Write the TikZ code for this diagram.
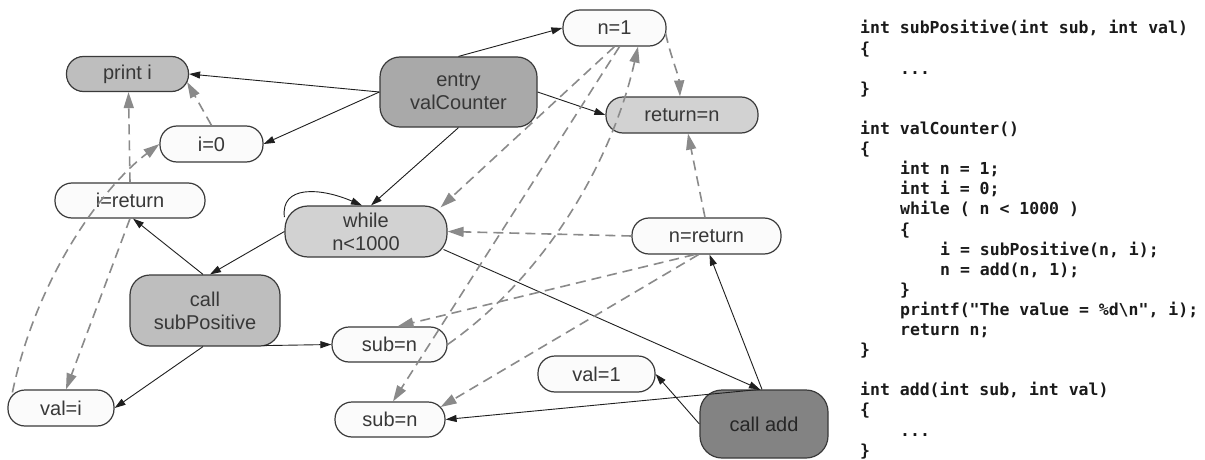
\documentclass[tikz,border=0pt]{standalone}
\usepackage{fontspec}
\setmainfont{Liberation Sans}
\newfontfamily\codefont{DejaVu Sans Mono}
\usetikzlibrary{arrows.meta,calc}

\definecolor{nodeline}{HTML}{3A3A3A}
\definecolor{labeltext}{HTML}{383838}
\definecolor{fillwhite}{HTML}{FBFBFB}
\definecolor{filllight}{HTML}{D2D2D2}
\definecolor{fillmid}{HTML}{BEBEBE}
\definecolor{filldark}{HTML}{A9A9A9}
\definecolor{fillcall}{HTML}{838383}
\definecolor{depgray}{HTML}{8A8A8A}
\definecolor{codeink}{HTML}{1A1A1A}

\begin{document}
\begin{tikzpicture}[x=1pt,y=-1pt,
  box/.style={draw=nodeline, line width=1.2pt, text=labeltext,
    font=\fontsize{20}{23}\selectfont, inner sep=0pt, align=center},
  pill/.style={box, rounded corners=17pt, fill=fillwhite},
  roundbox/.style={box, rounded corners=20pt},
  flow/.style={draw=black!88, line width=0.9pt,
    -{Triangle[length=11pt,width=7pt]}},
  dep/.style={draw=depgray, line width=1.6pt, dash pattern=on 10pt off 6pt,
    -{Triangle[length=16pt,width=10pt]}},
  code/.style={font=\codefont\bfseries\fontsize{16.5}{20}\selectfont,
    text=codeink, anchor=base west, inner sep=0pt}
]
\fill[white] (0,0) rectangle (1205,460);
\useasboundingbox (0,0) rectangle (1205,460);

% ---- graph nodes ----
\node[pill, fill=fillmid, minimum width=122pt, minimum height=35pt] (printi) at (127.5,74) {print i};
\node[roundbox, fill=filldark, minimum width=157pt, minimum height=70pt] (entry) at (458.5,92) {entry\\valCounter};
\node[pill, minimum width=103pt, minimum height=36pt] (n1) at (614.5,28) {n=1};
\node[pill, fill=filllight, minimum width=152pt, minimum height=36pt] (retn) at (682,115) {return=n};
\node[pill, minimum width=103pt, minimum height=36pt] (i0) at (211.5,144) {i=0};
\node[pill, minimum width=150pt, minimum height=35pt] (iret) at (130,200.5) {i=return};
\node[roundbox, rounded corners=23pt, fill=filllight, minimum width=162pt, minimum height=51pt] (while) at (366,231.5) {while\\n<1000};
\node[pill, minimum width=149pt, minimum height=36pt] (nret) at (706.5,236) {n=return};
\node[roundbox, fill=fillmid, minimum width=150pt, minimum height=71pt] (csp) at (205,310.5) {call\\subPositive};
\node[pill, minimum width=115pt, minimum height=35pt] (sub1) at (389.5,344.5) {sub=n};
\node[pill, minimum width=106pt, minimum height=36pt] (vali) at (61,408) {val=i};
\node[pill, minimum width=117pt, minimum height=36pt] (val1) at (596.5,374) {val=1};
\node[pill, minimum width=110pt, minimum height=35pt] (sub2) at (390,419.5) {sub=n};
\node[roundbox, rounded corners=22pt, fill=fillcall, text=black!85, minimum width=128pt, minimum height=68pt] (cadd) at (764,424) {call add};

% ---- control edges ----
\draw[flow] (entry.west) -- (printi.east);
\draw[flow] (entry.west) -- (i0.east);
\draw[flow] (entry.north) -- (n1.west);
\draw[flow] (entry.east) -- (retn.west);
\draw[flow] (entry.south) -- ([xshift=5pt]while.north);
\draw[flow] (while.170) .. controls +(-4,-32) and +(-42,-18) .. ([xshift=-4pt]while.north);
\draw[flow] (while.west) -- ([xshift=5pt]csp.north);
\draw[flow] ($(while.east)+(-4,18)$) -- ([xshift=-4pt]cadd.north);
\draw[flow] ([xshift=-2pt]csp.north) -- ([xshift=3pt]iret.south);
\draw[flow] ($(csp.south east)+(-17,-1)$) -- (sub1.west);
\draw[flow] ([xshift=-2pt]csp.south) -- (vali.east);
\draw[flow] ([xshift=-2pt]cadd.north) -- ([xshift=3pt]nret.south);
\draw[flow] (cadd.west) -- (val1.east);
\draw[flow] ([xshift=-4pt]cadd.north) -- (sub2.east);

% ---- data dependence edges ----
\draw[dep] (i0.north) -- ($(printi.east)+(-2,8)$);
\draw[dep] (iret.north) -- ([xshift=1pt]printi.south);
\draw[dep] ($(vali.north west)+(5,3)$) .. controls (37,275) and (104,186) .. (i0.west);
\draw[dep] (iret.south) -- ([xshift=5pt]vali.north);
\draw[dep] ($(n1.east)+(-1,5)$) .. controls +(4,20) and +(-1,-20) .. ([xshift=-2pt]retn.north);
\draw[dep] ([xshift=-1.5pt]nret.north) -- ([xshift=6pt]retn.south);
\draw[dep] (nret.west) -- (while.east);
\draw[dep] (n1.south) -- ($(while.north east)+(-7,2)$);
\draw[dep] ([xshift=5pt]n1.south) -- ([xshift=3pt]sub2.north);
\draw[dep] (sub1.east) .. controls (545,276) and (612,162) .. ([xshift=23.5pt]n1.south);
\draw[dep] ([xshift=-12pt]nret.south) -- ([xshift=8pt]sub1.north);
\draw[dep] ([xshift=-8pt]nret.south) -- ($(sub2.east)+(-5,-12.5)$);

% ---- source listing ----
\node[code] (l00) at (860,34.0)  {int subPositive(int sub, int val)};
\node[code] (l01) at (860,54.1)  {\{};
\node[code] (l02) at (900,74.2)  {...};
\node[code] (l03) at (860,94.3)  {\}};
\node[code] (l05) at (860,134.5) {int valCounter()};
\node[code] (l06) at (860,154.6) {\{};
\node[code] (l07) at (900,174.7) {int n = 1;};
\node[code] (l08) at (900,194.8) {int i = 0;};
\node[code] (l09) at (900,214.9) {while ( n < 1000 )};
\node[code] (l10) at (900,235.0) {\{};
\node[code] (l11) at (940,255.1) {i = subPositive(n, i);};
\node[code] (l12) at (940,275.2) {n = add(n, 1);};
\node[code] (l13) at (900,295.3) {\}};
\node[code] (l14) at (900,315.4) {printf(\char34 The value = \%d\textbackslash n\char34, i);};
\node[code] (l15) at (900,335.5) {return n;};
\node[code] (l16) at (860,355.6) {\}};
\node[code] (l18) at (860,395.8) {int add(int sub, int val)};
\node[code] (l19) at (860,415.9) {\{};
\node[code] (l20) at (900,436.0) {...};
\node[code] (l21) at (860,456.1) {\}};
\end{tikzpicture}
\end{document}
